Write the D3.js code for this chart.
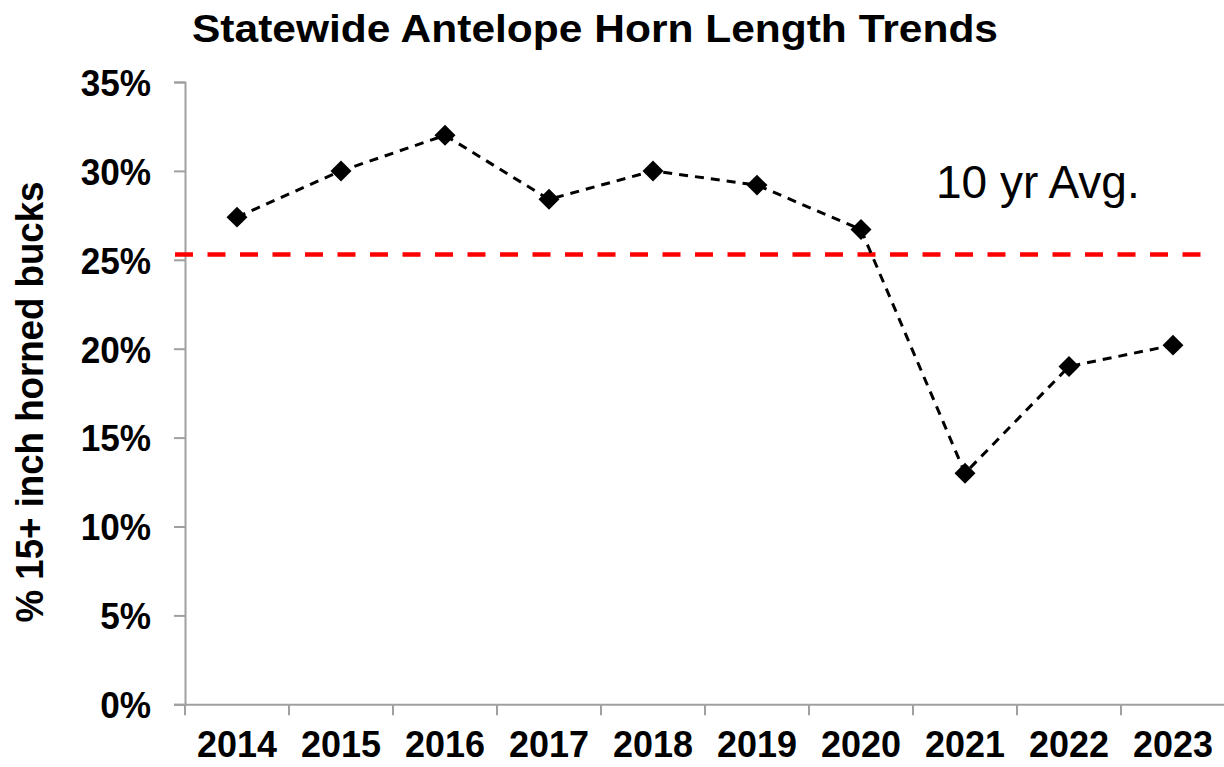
<!DOCTYPE html>
<html>
<head>
<meta charset="utf-8">
<script src="https://cdn.jsdelivr.net/npm/d3@7"></script>
<style>
  body{margin:0;background:#fff;}
  text{font-family:"Liberation Sans",Arial,sans-serif;}
</style>
</head>
<body>
<div class="chart"></div>
<script>
let years=['2014','2015','2016','2017','2018','2019','2020','2021','2022','2023']
let values=[27.4,30.0,32.0,28.4,30.0,29.2,26.7,13.0,19.0,20.2]
let avg=25.3
let yTicks=[0,5,10,15,20,25,30,35]

let w=1224, h=767
let padLeft=185, padRight=1225, padTop=82, padBottom=704.3

let svg=d3.select('.chart').append('svg').attr('width',w).attr('height',h)

let xScale=d3.scaleBand().domain(years).range([padLeft,padRight]).padding(0)
let yScale=d3.scaleLinear().domain([0,35]).range([padBottom,padTop])

// title
svg.append('text').text('Statewide Antelope Horn Length Trends')
  .attr('x',192).attr('y',42)
  .attr('font-size',39).attr('font-weight','bold')
  .attr('textLength',806).attr('lengthAdjust','spacingAndGlyphs')

// y axis
let yAxis=d3.axisLeft(yScale).tickValues(yTicks).tickSize(11).tickFormat(d=>d+'%')
let gy=svg.append('g').attr('transform','translate('+padLeft+',0)').call(yAxis)
gy.select('.domain').attr('stroke','#a0a0a0').attr('stroke-width',2)
gy.selectAll('.tick line').attr('stroke','#a0a0a0').attr('stroke-width',2)
gy.selectAll('.tick text').attr('font-size',37).attr('font-weight','bold')
  .attr('fill','#000').attr('x',-34).attr('dy','0.36em')
  .attr('font-family','"Liberation Sans",Arial,sans-serif')
  .each(function(){
    let len=this.getComputedTextLength()
    d3.select(this).attr('textLength',len*0.95).attr('lengthAdjust','spacingAndGlyphs')
  })

// x axis
let xAxis=d3.axisBottom(xScale).tickSize(0).tickFormat(d=>d)
let gx=svg.append('g').attr('transform','translate(0,'+padBottom+')').call(xAxis)
gx.select('.domain').attr('stroke','#a0a0a0').attr('stroke-width',2)
gx.selectAll('.tick text').attr('font-size',37).attr('font-weight','bold')
  .attr('fill','#000').attr('y',53).attr('dy',0)
  .attr('font-family','"Liberation Sans",Arial,sans-serif')
  .attr('textLength',80).attr('lengthAdjust','spacingAndGlyphs')
// category boundary ticks
gx.selectAll('.sep').data(years).enter().append('line')
  .attr('x1',d=>xScale(d)).attr('x2',d=>xScale(d))
  .attr('y1',0).attr('y2',11)
  .attr('stroke','#a0a0a0').attr('stroke-width',2)

// y axis title
svg.append('text').text('% 15+ inch horned bucks')
  .attr('transform','translate(43,402) rotate(-90)')
  .attr('text-anchor','middle')
  .attr('font-size',38).attr('font-weight','bold')
  .attr('textLength',441).attr('lengthAdjust','spacingAndGlyphs')

// 10 yr average line
svg.append('line')
  .attr('x1',175).attr('x2',1207)
  .attr('y1',yScale(avg)).attr('y2',yScale(avg))
  .attr('stroke','#ff0000').attr('stroke-width',4.5)
  .attr('stroke-dasharray','18,14.5')

svg.append('text').text('10 yr Avg.')
  .attr('x',936).attr('y',198)
  .attr('font-size',46)

// series line
let line=d3.line().x((d,i)=>xScale(years[i])+xScale.bandwidth()/2).y(d=>yScale(d))
svg.append('path').datum(values).attr('d',line)
  .attr('fill','none').attr('stroke','#000').attr('stroke-width',3)
  .attr('stroke-dasharray','9,7')

svg.selectAll('.pt').data(values).enter().append('path')
  .attr('class','pt')
  .attr('d',d3.symbol().type(d3.symbolDiamond2).size(280))
  .attr('transform',(d,i)=>'translate('+(xScale(years[i])+xScale.bandwidth()/2)+','+yScale(d)+')')
  .attr('fill','#000')
</script>
</body>
</html>
